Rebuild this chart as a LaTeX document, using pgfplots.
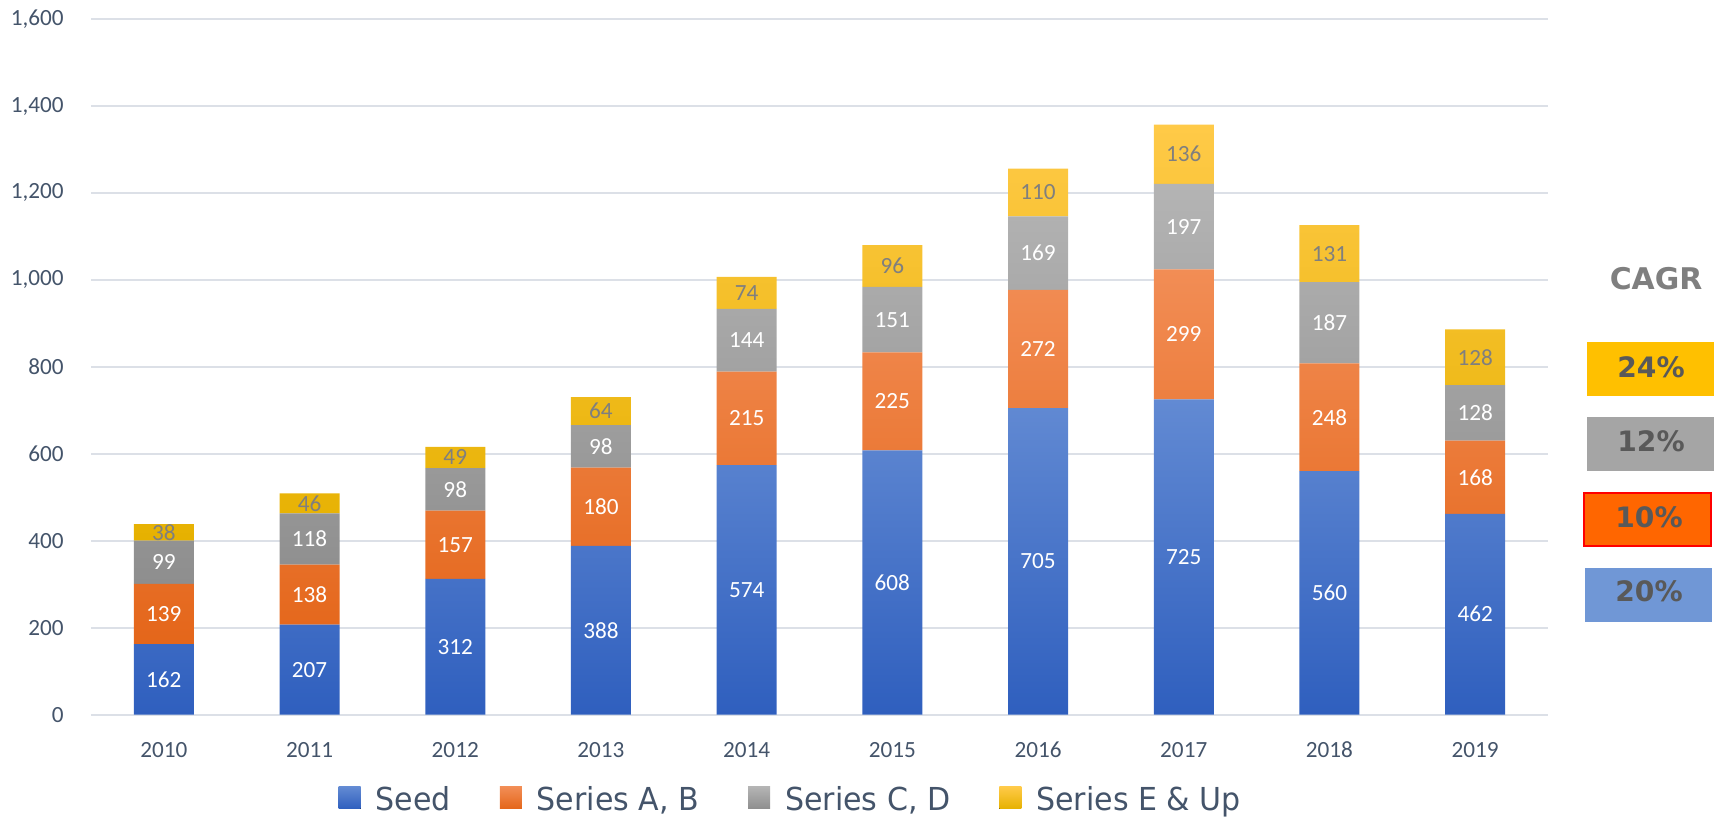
\documentclass[border=0pt]{standalone}
\usepackage{fontspec}
\setmainfont{Carlito}
\newfontfamily\vfont[FakeStretch=0.95]{DejaVu Sans}
\newfontfamily\vbold{DejaVu Sans}
\usepackage{pgfplots}
\pgfplotsset{compat=1.18}

\definecolor{txt}{HTML}{44546A}
\definecolor{gridc}{HTML}{DCE0E7}
\definecolor{seedT}{HTML}{628AD3}
\definecolor{seedB}{HTML}{2F5FBE}
\definecolor{abT}{HTML}{F28D55}
\definecolor{abB}{HTML}{E4661A}
\definecolor{cdT}{HTML}{B4B4B4}
\definecolor{cdB}{HTML}{8E8E8E}
\definecolor{eT}{HTML}{FFCA48}
\definecolor{eB}{HTML}{E6B100}
\definecolor{elab}{HTML}{7F7F7F}
\definecolor{pct}{HTML}{595959}
\definecolor{boxY}{HTML}{FFC000}
\definecolor{boxG}{HTML}{A5A5A5}
\definecolor{boxO}{HTML}{FF6600}
\definecolor{boxB}{HTML}{7097D6}

\newcommand\lab{\fontsize{6.6}{8}\selectfont}
\newcommand\legfont{\vfont\fontsize{9}{10}\selectfont}

% stacked bars: anchor=center already puts the label mid-segment
\pgfplotsset{
  seg/.style n args={3}{
    draw=none, top color=#1, bottom color=#2,
    nodes near coords,
    every node near coord/.append style={anchor=center, text=#3, font=\lab},
  },
}

\begin{document}
\begin{tikzpicture}
% page = 1721 x 819 px, 1 px = 0.01cm, axis box starts at px (91, 714.6)
\path[use as bounding box] (-0.91,-1.044) rectangle (16.30,7.146);
\begin{axis}[
  scale only axis, width=14.57cm, height=6.956cm,
  ybar stacked, bar width=0.6cm,
  xmin=-0.5, xmax=9.5, ymin=0, ymax=1600,
  xtick={0,...,9},
  xticklabels={2010,2011,2012,2013,2014,2015,2016,2017,2018,2019},
  ytick={0,200,...,1600},
  axis x line=bottom, axis y line=left,
  axis line style={draw=none},
  major tick length=0pt,
  ymajorgrids, grid style={gridc, line width=0.6pt},
  tick label style={font=\lab, text=txt},
  yticklabel style={xshift=-0.15cm},
  xticklabel style={yshift=-0.15cm},
  /pgf/number format/1000 sep={,},
  /pgf/number format/assume math mode=true,
  legend columns=4,
  legend style={draw=none, fill=none, at={(0.482,-0.124)}, anchor=center,
    font=\legfont, text=txt,
    /tikz/every even column/.append style={column sep=0.42cm}},
  legend image code/.code={\fill[#1] (0cm,-0.08cm) rectangle (0.22cm,0.14cm);
    \path (0.30cm,0cm);},
]
\addplot[seg={seedT}{seedB}{white}] coordinates {
  (0,162)(1,207)(2,312)(3,388)(4,574)(5,608)(6,705)(7,725)(8,560)(9,462)};
\addplot[seg={abT}{abB}{white}] coordinates {
  (0,139)(1,138)(2,157)(3,180)(4,215)(5,225)(6,272)(7,299)(8,248)(9,168)};
\addplot[seg={cdT}{cdB}{white}] coordinates {
  (0,99)(1,118)(2,98)(3,98)(4,144)(5,151)(6,169)(7,197)(8,187)(9,128)};
\addplot[seg={eT}{eB}{elab}] coordinates {
  (0,38)(1,46)(2,49)(3,64)(4,74)(5,96)(6,110)(7,136)(8,131)(9,128)};
\legend{Seed,{Series A, B},{Series C, D},Series E \& Up}
\end{axis}
% CAGR side panel, in px of the reference
\begin{scope}[x=0.01cm, y=-0.01cm, shift={(-0.91cm,7.146cm)}]
  \node[anchor=base, text=elab, font=\vbold\bfseries\fontsize{8.5}{10}\selectfont, inner sep=0]
    at (1657,290) {CAGR};
  \fill[boxY] (1588,342) rectangle (1715,396);
  \fill[boxG] (1588,417) rectangle (1715,471);
  \filldraw[fill=boxO, draw=red, line width=0.5pt] (1585,493) rectangle (1712,546);
  \fill[boxB] (1586,568) rectangle (1713,622);
  \tikzset{pc/.style={anchor=base, text=pct, inner sep=0,
    font=\vbold\bfseries\fontsize{8}{10}\selectfont}}
  \node[pc] at (1652,378) {24\%};
  \node[pc] at (1652,452) {12\%};
  \node[pc] at (1650,528) {10\%};
  \node[pc] at (1650,602) {20\%};
\end{scope}
\end{tikzpicture}
\end{document}
